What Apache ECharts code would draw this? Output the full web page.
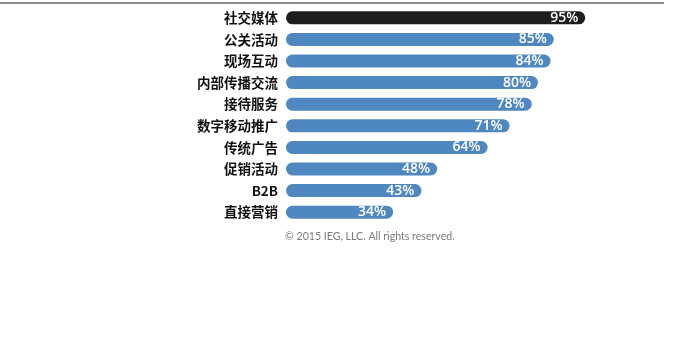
<!DOCTYPE html>
<html>
<head>
<meta charset="utf-8">
<script src="https://cdn.jsdelivr.net/npm/echarts@6/dist/echarts.min.js"></script>
<style>
  html, body { margin: 0; padding: 0; background: #fff; }
  #chart { width: 700px; height: 341px; }
</style>
</head>
<body>
<div id="chart"></div>
<script>
// Marketing channels and their share (%)
const categories = ['社交媒体', '公关活动', '现场互动', '内部传播交流', '接待服务', '数字移动推广', '传统广告', '促销活动', 'B2B', '直接营销'];
const values = [95, 85, 84, 80, 78, 71, 64, 48, 43, 34];
const highlightColor = '#1f1d1e';
const barColor = '#4f87c0';
const footnote = '© 2015 IEG, LLC. All rights reserved.';

const chart = echarts.init(document.getElementById('chart'), null, { renderer: 'canvas' });

chart.setOption({
  animation: false,
  backgroundColor: '#fff',
  grid: { left: 286, top: 7, width: 315, height: 216, containLabel: false },
  xAxis: {
    type: 'value', min: 0, max: 100,
    show: false
  },
  yAxis: {
    type: 'category',
    data: categories,
    inverse: true,
    axisLine: { show: false },
    axisTick: { show: false },
    splitLine: { show: false },
    axisLabel: {
      margin: 8,
      color: '#111',
      fontSize: 13.5,
      fontWeight: 'bold',
      fontFamily: '"Noto Sans CJK SC", "Noto Sans", sans-serif'
    }
  },
  series: [{
    type: 'bar',
    data: values.map((v, i) => ({
      value: v,
      itemStyle: { color: i === 0 ? highlightColor : barColor }
    })),
    barWidth: 13,
    itemStyle: { borderRadius: 6.5 },
    label: {
      show: true,
      position: 'insideRight',
      distance: 7,
      formatter: '{c}%',
      color: '#fff',
      fontSize: 14,
      fontWeight: 600,
      fontFamily: '"Open Sans", sans-serif'
    }
  }],
  graphic: [
    {
      type: 'line',
      shape: { x1: 0, y1: 3, x2: 664, y2: 3 },
      style: { stroke: '#8a8a8a', lineWidth: 2 }
    },
    {
      type: 'text',
      left: 285, top: 231,
      style: {
        text: footnote,
        fill: '#7a7a7a',
        fontSize: 10.6,
        fontFamily: 'Lato, sans-serif'
      }
    }
  ]
});
</script>
</body>
</html>
